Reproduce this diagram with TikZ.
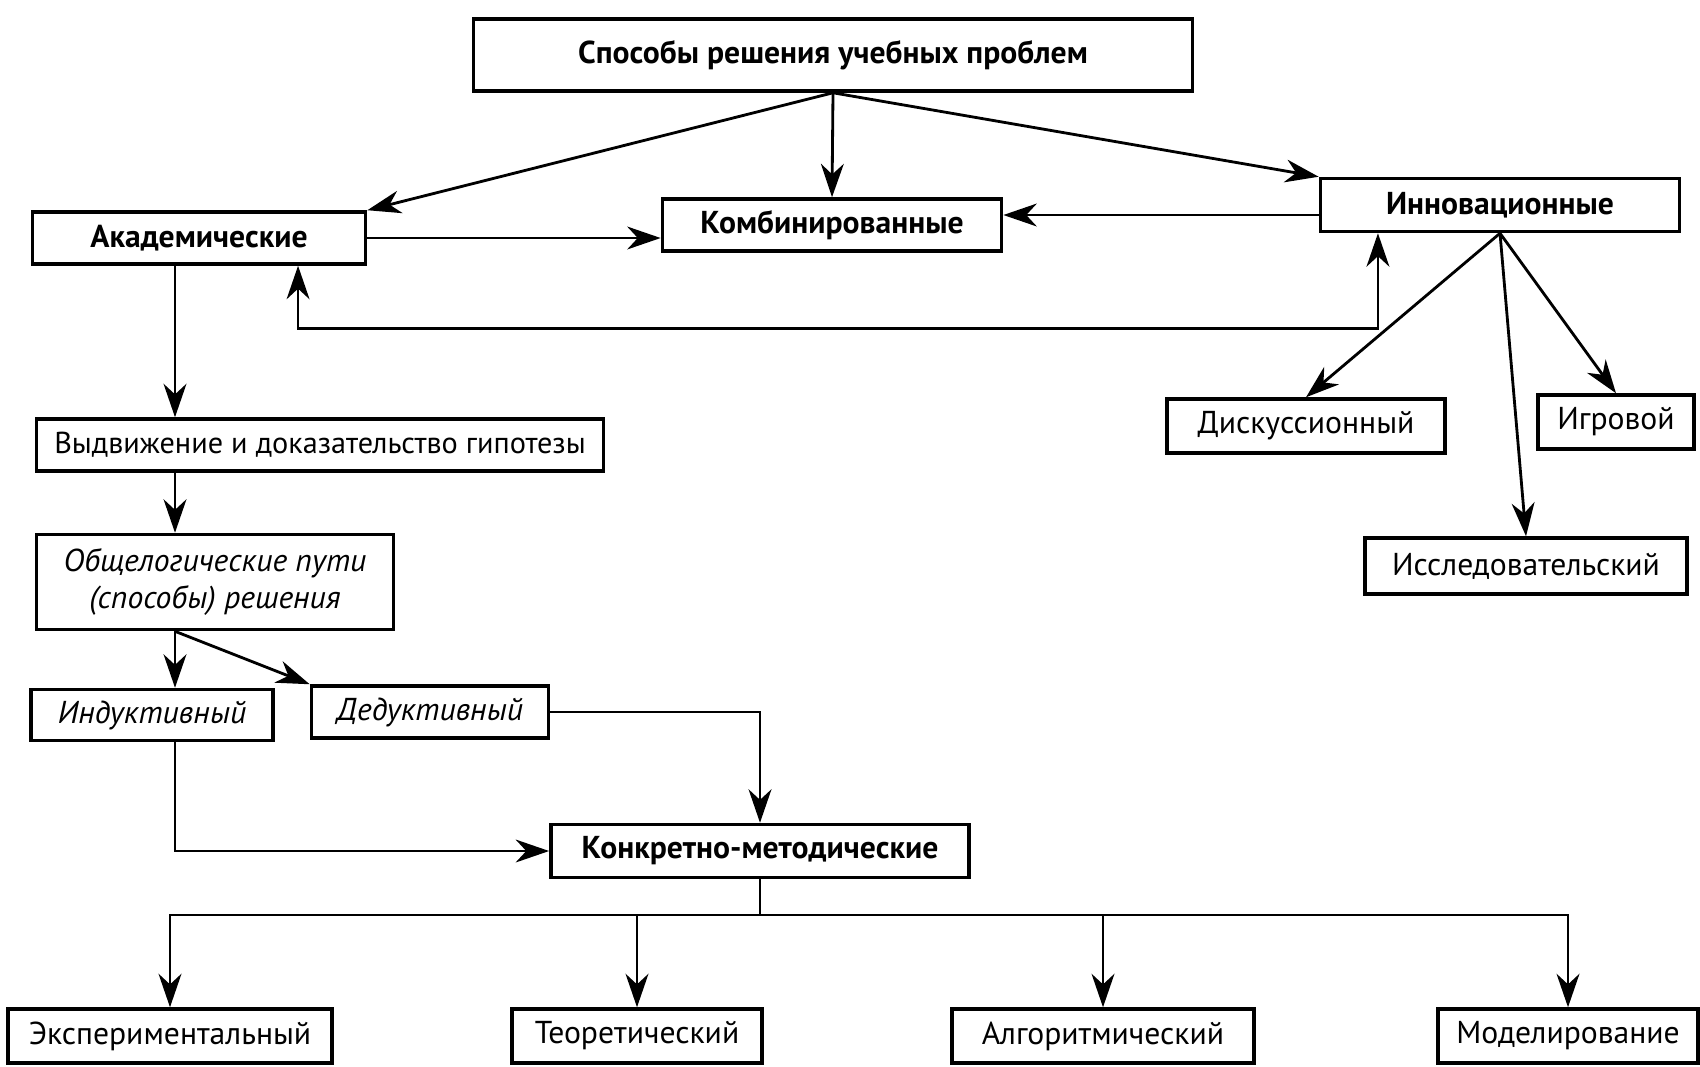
\documentclass[tikz,border=0pt]{standalone}
\usepackage{fontspec}
\setmainfont{PT Sans}
\usetikzlibrary{arrows.meta}

\begin{document}
\begin{tikzpicture}[x=0.01cm, y=-0.01cm, line width=0.8pt,
  font=\fontsize{9}{10.5}\selectfont,
  >={Stealth[length=9.5pt,width=6.5pt,inset=3pt]},
  box/.style={draw, line width=1pt, minimum height=0.52cm, inner sep=2pt},
  bbox/.style={box, font=\fontsize{9}{10.5}\selectfont\bfseries},
  ibox/.style={box, font=\fontsize{9}{10.5}\selectfont\itshape}]
  \useasboundingbox (0,0) rectangle (1700,1066);

  % Root and first level
  \node[bbox, minimum width=7.19cm, minimum height=0.72cm] (top) at (833,55) {Способы решения учебных проблем};
  \node[bbox, minimum width=3.33cm] (akad) at (199,238) {Академические};
  \node[bbox, minimum width=3.39cm] (komb) at (832,225) {Комбинированные};
  \node[bbox, minimum width=3.59cm, minimum height=0.53cm] (innov) at (1500,205) {Инновационные};

  % Academic branch
  \node[box, minimum width=5.67cm, font=\fontsize{8.6}{10}\selectfont] (vydv) at (320,445) {Выдвижение и доказательство гипотезы};
  \node[ibox, minimum width=3.57cm, minimum height=0.95cm, align=center] (obshch) at (215,582)
    {Общелогические пути\\(способы) решения};
  \node[ibox, minimum width=2.42cm, minimum height=0.51cm] (induk) at (152,715) {Индуктивный};
  \node[ibox, minimum width=2.37cm] (deduk) at (430,712) {Дедуктивный};
  \node[bbox, minimum width=4.18cm, minimum height=0.53cm] (konkr) at (760,851) {Конкретно-методические};

  % Innovation branch
  \node[box, minimum width=2.78cm, minimum height=0.54cm] (disk) at (1306,426) {Дискуссионный};
  \node[box, minimum width=1.56cm, minimum height=0.54cm] (igr) at (1616,422) {Игровой};
  \node[box, minimum width=3.22cm, minimum height=0.56cm] (issl) at (1526,566) {Исследовательский};

  % Bottom row
  \foreach \n/\x/\w/\t in {eksp/170/3.24/Экспериментальный, teor/637/2.5/Теоретический,
      algor/1103/3.02/Алгоритмический, model/1568/2.6/Моделирование}
    \node[box, minimum width=\w cm, minimum height=0.54cm] (\n) at (\x,1036) {\t};

  % Helper lines
  \coordinate (spine) at (175,0);
  \coordinate (bus) at (0,915);

  % From the root
  \draw[->] (top.south) -- (akad.north east);
  \draw[->] (top.south) -- (komb.north);
  \draw[->] (top.south) -- (innov.north west);
  \draw[->] (akad.east) -- (akad.east -| komb.west);
  \draw[->] ([yshift=-0.1cm]innov.west) -- ([yshift=-0.1cm]innov.west -| komb.east);
  \draw[<->] ([xshift=0.99cm]akad.south) -- ++(0,63) -| ([xshift=-1.22cm]innov.south);

  % Academic chain
  \draw[->] (akad.south -| spine) -- (vydv.north -| spine);
  \draw[->] (vydv.south -| spine) -- (obshch.north -| spine);
  \draw[->] (obshch.south -| spine) -- (induk.north -| spine);
  \draw[->] (obshch.south -| spine) -- (deduk.north west);
  \draw[->] (induk.south -| spine) |- (konkr.west);
  \draw[->] (deduk.east) -| (konkr.north);

  % Innovation fan
  \foreach \n in {disk, issl, igr}
    \draw[->] (innov.south) -- (\n.north);

  % Bus to the bottom row
  \draw (konkr.south) -- (konkr.south |- bus);
  \foreach \n in {eksp, teor, algor, model}
    \draw[->] (konkr.south |- bus) -| (\n.north);

\end{tikzpicture}
\end{document}
